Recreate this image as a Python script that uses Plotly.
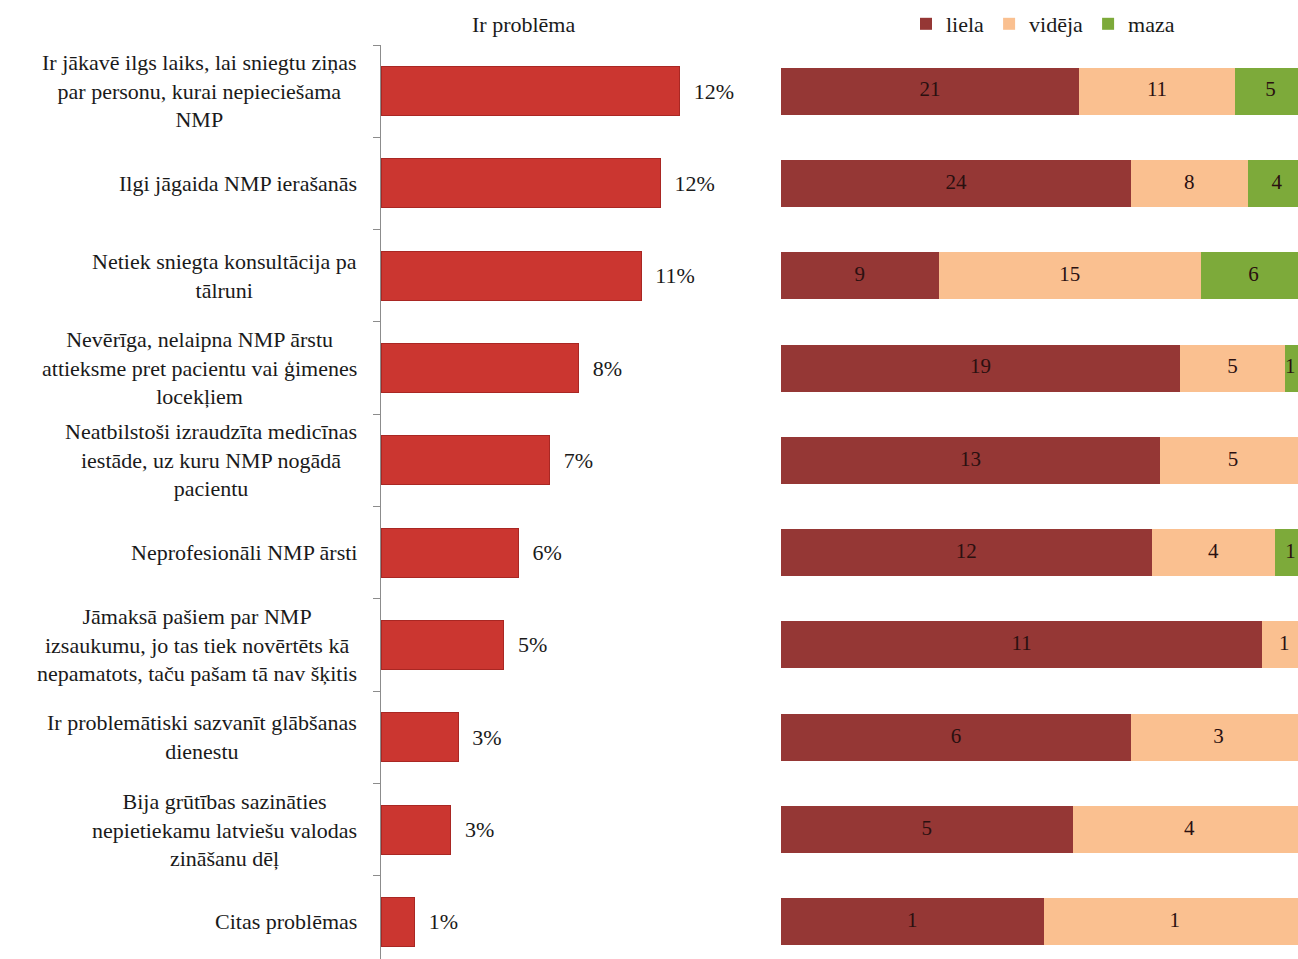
import plotly.graph_objects as go

W, H = 1298, 959

categories = [
    "Ir jākavē ilgs laiks, lai sniegtu ziņas<br>par personu, kurai nepieciešama<br>NMP",
    "Ilgi jāgaida NMP ierašanās",
    "Netiek sniegta konsultācija pa<br>tālruni",
    "Nevērīga, nelaipna NMP ārstu<br>attieksme pret pacientu vai ģimenes<br>locekļiem",
    "Neatbilstoši izraudzīta medicīnas<br>iestāde, uz kuru NMP nogādā<br>pacientu",
    "Neprofesionāli NMP ārsti",
    "Jāmaksā pašiem par NMP<br>izsaukumu, jo tas tiek novērtēts kā<br>nepamatots, taču pašam tā nav šķitis",
    "Ir problemātiski sazvanīt glābšanas<br>dienestu",
    "Bija grūtības sazināties<br>nepietiekamu latviešu valodas<br>zināšanu dēļ",
    "Citas problēmas",
]

# share of respondents reporting each problem, %
problem_share = [12.4, 11.6, 10.8, 8.2, 7.0, 5.7, 5.1, 3.2, 2.9, 1.4]

# how serious the problem was (number of answers)
liela = [21, 24, 9, 19, 13, 12, 11, 6, 5, 1]
videja = [11, 8, 15, 5, 5, 4, 1, 3, 4, 1]
maza = [5, 4, 6, 1, 0, 1, 0, 0, 0, 0]

series = [("liela", liela, "#953735"), ("vidēja", videja, "#FAC090"), ("maza", maza, "#7DAA3A")]
totals = [a + b + c for a, b, c in zip(liela, videja, maza)]

FONT = "Liberation Serif"
rows = list(range(len(categories)))
X2_MAX = 517 / 525  # visible part of the 100% scale

fig = go.Figure()

fig.add_trace(go.Bar(
    y=rows, x=problem_share, orientation="h", xaxis="x", yaxis="y",
    width=0.53,
    marker=dict(color="#CB3630", line=dict(color="#A92723", width=1)),
    text=["\u00a0\u00a0" + f"{round(v)}%" for v in problem_share],
    textposition="outside", cliponaxis=False,
    textfont=dict(family=FONT, size=22, color="#1a1a1a"),
    showlegend=False, hoverinfo="skip",
))

# 100% stacked bars: each segment is its count divided by the row total
label_x, label_y, label_t, label_pos = [], [], [], []
base = [0.0] * len(rows)
for name, vals, color in series:
    shares = [v / t for v, t in zip(vals, totals)]
    fig.add_trace(go.Bar(
        y=rows, x=shares, orientation="h", xaxis="x2", yaxis="y",
        name=name, width=0.51,
        marker=dict(color=color, line=dict(width=0)),
        hoverinfo="skip",
    ))
    for r, (v, s) in enumerate(zip(vals, shares)):
        if v:
            mid = base[r] + s / 2
            label_x.append(mid)
            label_y.append(r)
            label_t.append(str(v))
            # keep labels of narrow end segments inside the visible area
            label_pos.append("middle left" if mid > X2_MAX - 0.01 else "middle center")
        base[r] += s

# segment counts written at the middle of each segment
fig.add_trace(go.Scatter(
    x=label_x, y=label_y, text=label_t, mode="text",
    xaxis="x2", yaxis="y", cliponaxis=False,
    textposition=label_pos,
    textfont=dict(family=FONT, size=21, color="#2a1010"),
    showlegend=False, hoverinfo="skip",
))

annotations = []
for i, lab in enumerate(categories):
    annotations.append(dict(
        text=lab, x=359 / W, xref="paper", y=i, yref="y",
        xanchor="right", yanchor="middle", align="center", showarrow=False,
        font=dict(family=FONT, size=22, color="#1a1a1a"),
    ))
annotations.append(dict(
    text="Ir problēma", x=523 / W, xref="paper", y=1 - 25 / H, yref="paper",
    xanchor="center", yanchor="middle", showarrow=False,
    font=dict(family=FONT, size=22, color="#1a1a1a"),
))

top_px = 45
fig.update_layout(
    width=W, height=H,
    margin=dict(l=0, r=0, t=0, b=0),
    paper_bgcolor="white", plot_bgcolor="white",
    barmode="stack",
    font=dict(family=FONT, size=22, color="#1a1a1a"),
    xaxis=dict(domain=[381 / W, 760 / W], range=[0, 379 / 24.1],
               visible=False, fixedrange=True),
    xaxis2=dict(domain=[781 / W, 1.0], range=[0, X2_MAX],
                visible=False, fixedrange=True),
    yaxis=dict(domain=[0, 1 - top_px / H],
               range=[-0.5 + (H - top_px) / 92.3, -0.5],
               showticklabels=False, ticks="", showgrid=False, zeroline=False,
               showline=True, linecolor="#8c8c8c", linewidth=1,
               anchor="x",
               minor=dict(tickvals=[r - 0.5 for r in rows], ticks="outside",
                          ticklen=7, tickcolor="#8c8c8c", showgrid=False)),
    legend=dict(orientation="h", traceorder="normal",
                x=906 / W, y=1 - 24 / H, xanchor="left", yanchor="middle",
                font=dict(family=FONT, size=22, color="#1a1a1a"),
                itemwidth=30, tracegroupgap=0, bgcolor="rgba(0,0,0,0)"),
    annotations=annotations,
)

fig.write_html("out.html")
